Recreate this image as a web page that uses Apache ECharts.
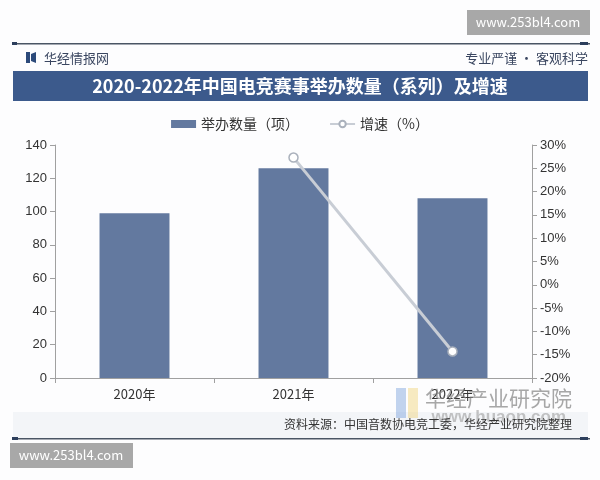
<!DOCTYPE html>
<html><head><meta charset="utf-8">
<script src="https://cdn.jsdelivr.net/npm/echarts@6/dist/echarts.min.js"></script>
<style>html,body{margin:0;padding:0;background:#fff}#c{width:600px;height:480px}</style>
</head><body><div id="c"></div>
<script>
const categories = ['2020年', '2021年', '2022年'];
const counts = [99, 126, 108];
const growth = [null, 27.3, -14.3];
const leftTicks = { min: 0, max: 140, interval: 20 };
const rightTicks = { min: -20, max: 30, interval: 5 };

const chart = echarts.init(document.getElementById('c'));
const font = '"Noto Sans CJK SC", "Liberation Sans", sans-serif';
chart.setOption({
  backgroundColor: '#fdfdfe',
  animation: false,
  textStyle: { fontFamily: font },
  legend: {
    top: 112, left: 'center', itemGap: 30,
    textStyle: { fontSize: 14, color: '#333', fontFamily: font },
    data: [
      { name: '举办数量（项）', icon: 'rect', itemStyle: { color: '#63799f' } },
      { name: '增速（%）' }
    ],
    itemWidth: 25, itemHeight: 8
  },
  grid: { left: 55, right: 68, top: 145, bottom: 102 },
  xAxis: {
    type: 'category', data: categories,
    axisLine: { lineStyle: { color: '#a0a0a0' } },
    axisTick: { show: true, lineStyle: { color: '#a0a0a0' } },
    axisLabel: { color: '#333', fontSize: 13, margin: 10, fontFamily: font }
  },
  yAxis: [
    { type: 'value', min: leftTicks.min, max: leftTicks.max, interval: leftTicks.interval,
      axisLine: { show: true, lineStyle: { color: '#a0a0a0' } },
      axisTick: { show: true, lineStyle: { color: '#a0a0a0' } },
      splitLine: { show: false },
      axisLabel: { color: '#333', fontSize: 13, fontFamily: '"Liberation Sans", Arial, sans-serif' } },
    { type: 'value', min: rightTicks.min, max: rightTicks.max, interval: rightTicks.interval,
      axisLine: { show: true, lineStyle: { color: '#a0a0a0' } },
      axisTick: { show: true, lineStyle: { color: '#a0a0a0' } },
      splitLine: { show: false },
      axisLabel: { color: '#333', fontSize: 13, formatter: '{value}%', fontFamily: '"Liberation Sans", Arial, sans-serif' } }
  ],
  series: [
    { name: '举办数量（项）', type: 'bar', data: counts, barWidth: '44%',
      itemStyle: { color: '#63799f' }, z: 2 },
    { name: '增速（%）', type: 'line', yAxisIndex: 1, data: growth,
      connectNulls: false,
      lineStyle: { color: '#c8cdd5', width: 3 },
      itemStyle: { color: '#ffffff', borderColor: '#aab1bc', borderWidth: 1.5 },
      symbol: 'circle', symbolSize: 9, z: 3 }
  ],
  graphic: [
    // top watermark
    { type: 'rect', shape: { x: 467, y: 10, width: 123, height: 25 }, style: { fill: '#a8a8a8' }, z: 10 },
    { type: 'text', x: 528, y: 22, style: { text: 'www.253bl4.com', fill: '#fff', font: '13px ' + font, textAlign: 'center', textVerticalAlign: 'middle' }, z: 11 },
    // top line
    { type: 'rect', shape: { x: 12, y: 43, width: 578, height: 1.5 }, style: { fill: '#4a5564' } },
    { type: 'rect', shape: { x: 580, y: 42, width: 8, height: 3 }, style: { fill: '#2c3e5c' } },
    { type: 'rect', shape: { x: 12, y: 42, width: 5, height: 3 }, style: { fill: '#2c3e5c' } },
    // brand
    { type: 'rect', shape: { x: 26, y: 52, width: 4, height: 11 }, style: { fill: '#2c4a7a' } },
    { type: 'polygon', shape: { points: [[31,54],[36,52],[36,63],[31,61]] }, style: { fill: '#2c4a7a' } },
    { type: 'text', x: 44, y: 58, style: { text: '华经情报网', fill: '#3a4660', font: '13px ' + font, textVerticalAlign: 'middle' } },
    { type: 'text', x: 588, y: 58, style: { text: '专业严谨 • 客观科学', fill: '#3a4660', font: '13px ' + font, textAlign: 'right', textVerticalAlign: 'middle' } },
    // title bar
    { type: 'rect', shape: { x: 13, y: 71, width: 575, height: 30 }, style: { fill: '#3c5a8c' } },
    { type: 'text', x: 300, y: 86, style: { text: '2020-2022年中国电竞赛事举办数量（系列）及增速', fill: '#fff', font: 'bold 18px ' + font, textAlign: 'center', textVerticalAlign: 'middle' } },
    // footer band
    { type: 'rect', shape: { x: 13, y: 412, width: 575, height: 26 }, style: { fill: '#f3f5f8' }, z: -1 },
    // huaon logo watermark
    { type: 'rect', shape: { x: 396, y: 388, width: 10, height: 30 }, style: { fill: 'rgba(120,160,220,0.45)' }, z: 5 },
    { type: 'rect', shape: { x: 408, y: 388, width: 10, height: 30 }, style: { fill: 'rgba(240,210,120,0.45)' }, z: 5 },
    { type: 'text', x: 572, y: 398, style: { text: '华经产业研究院', fill: 'rgba(130,130,130,0.7)', font: '21px ' + font, textAlign: 'right', textVerticalAlign: 'middle' }, z: 5 },
    { type: 'text', x: 566, y: 417, style: { text: 'www.huaon.com', fill: 'rgba(150,150,150,0.55)', font: 'bold 17px "Liberation Sans", sans-serif', textAlign: 'right', textVerticalAlign: 'middle' }, z: 5 },
    { type: 'text', x: 572, y: 424, style: { text: '资料来源：中国音数协电竞工委，华经产业研究院整理', fill: '#333', font: '12px ' + font, textAlign: 'right', textVerticalAlign: 'middle' }, z: 6 },
    // bottom line
    { type: 'rect', shape: { x: 12, y: 438, width: 578, height: 1.5 }, style: { fill: '#4a5564' } },
    { type: 'rect', shape: { x: 580, y: 437, width: 8, height: 3 }, style: { fill: '#2c3e5c' } },
    { type: 'rect', shape: { x: 12, y: 437, width: 6, height: 3 }, style: { fill: '#2c3e5c' } },
    // bottom watermark
    { type: 'rect', shape: { x: 10, y: 443, width: 123, height: 25 }, style: { fill: '#a8a8a8' }, z: 10 },
    { type: 'text', x: 71, y: 455, style: { text: 'www.253bl4.com', fill: '#fff', font: '13px ' + font, textAlign: 'center', textVerticalAlign: 'middle' }, z: 11 }
  ]
});
</script></body></html>
